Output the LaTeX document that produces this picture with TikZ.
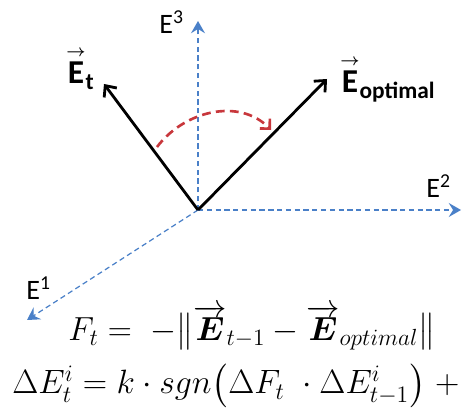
\RequirePackage{fix-cm}
\documentclass[tikz,border=0pt]{standalone}
\usepackage{amsmath,bm}
\usepackage{fontspec}
\setsansfont{Carlito}
\usetikzlibrary{arrows.meta}
\definecolor{axisblue}{RGB}{74,128,200}
\definecolor{arcred}{RGB}{200,55,60}
\newcommand{\arrowE}{\overset{\scriptscriptstyle\boldsymbol{\rightarrow}}{\text{E}}}
\tikzset{
  axis/.style={axisblue, densely dashed, line width=0.7pt,
    -{Stealth[length=7pt,width=8pt,inset=2.5pt]}},
  vecarrow/.style={black, line width=1.6pt, -{Straight Barb[length=5pt,width=9pt]}},
  axislabel/.style={font=\sffamily\fontsize{16}{18}\selectfont, inner sep=0pt},
  veclabel/.style={font=\sffamily\bfseries\fontsize{19}{22}\selectfont, inner sep=0pt},
  formula/.style={inner sep=0pt, anchor=base west},
}
\begin{document}
\begin{tikzpicture}[x=0.02cm, y=-0.02cm]
  \useasboundingbox (0,0) rectangle (463,408);
  \coordinate (O) at (198,210);
  \coordinate (e1) at (27,320);
  \coordinate (e2) at (461,210);
  \coordinate (e3) at (198,21);
  \coordinate (et) at (104,84);
  \coordinate (eopt) at (327,79);
  \coordinate (a1) at (157,147);
  \coordinate (a2) at (271,130);

  \draw[axis] (O) -- (e3);
  \draw[axis] (O) -- (e2);
  \draw[axis] (O) -- (e1);
  \draw[vecarrow] (O) -- (et);
  \draw[vecarrow] (O) -- (eopt);
  \draw[arcred, dash pattern=on 5pt off 3pt, line width=1.5pt, -{Straight Barb[length=4pt,width=8pt]}]
    (a1) .. controls (185,110) and (240,98) .. (a2);

  \node[axislabel, anchor=base west] (l3) at (159,34) {E$^{\text{3}}$};
  \node[axislabel, anchor=base west] (l2) at (426,198) {E$^{\text{2}}$};
  \node[axislabel, anchor=base west] (l1) at (26,300) {E$^{\text{1}}$};
  \node[veclabel, anchor=base west] (lt) at (66,84) {$\arrowE_{\text{t}}$};
  \node[veclabel, anchor=base west] (lopt) at (340,93) {$\arrowE_{\text{optimal}}$};

  \node[formula, font=\fontsize{19}{22}\selectfont] (fit) at (68,340)
    {$F_t = \; -\big\|\overrightarrow{\bm{E}}_{t-1} - \overrightarrow{\bm{E}}_{optimal}\big\|$};
  \node[formula, font=\fontsize{19.2}{23}\selectfont] (delta) at (12,394)
    {$\Delta E_t^i = k\cdot sgn\big(\Delta F_t\ \cdot \Delta E_{t-1}^i\big)\;+$};
\end{tikzpicture}
\end{document}
